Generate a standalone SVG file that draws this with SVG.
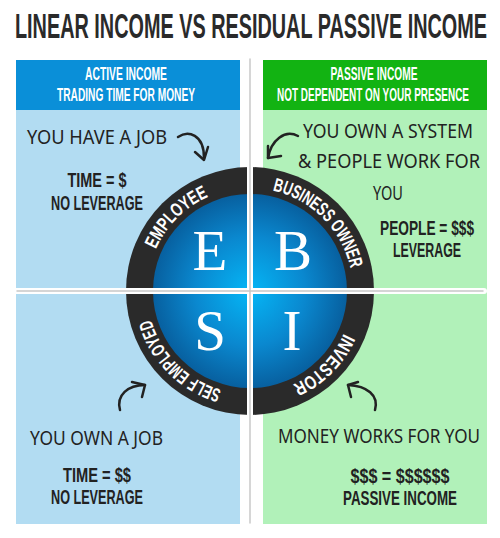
<svg xmlns="http://www.w3.org/2000/svg" width="500" height="538" viewBox="0 0 500 538">
<defs>
<radialGradient id="core" cx="250" cy="291" r="100" gradientUnits="userSpaceOnUse">
<stop offset="0" stop-color="#05b6f6"/>
<stop offset="0.55" stop-color="#0a88cf"/>
<stop offset="1" stop-color="#075d9c"/>
</radialGradient>
<path id="arcTL" d="M147,291 A103,103 0 0 1 250,188"/>
<path id="arcTR" d="M250,188 A103,103 0 0 1 353,291"/>
<path id="arcBR" d="M353,291 A103,103 0 0 1 250,394"/>
<path id="arcBL" d="M250,394 A103,103 0 0 1 147,291"/>
</defs>
<style>
.title{font-family:"Liberation Sans",Arial,sans-serif;font-weight:bold;font-size:35px;fill:#2a2a2a}
.hdr{font-family:"Liberation Sans",Arial,sans-serif;font-weight:bold;font-size:18px;fill:#fff;text-anchor:middle}
.big{font-family:"Liberation Sans",Arial,sans-serif;font-weight:bold;font-size:21px;fill:#222;text-anchor:middle}
.hand{font-family:"Noto Sans",sans-serif;font-size:19px;fill:#222}
.ring{font-family:"Liberation Sans",Arial,sans-serif;font-weight:bold;font-size:19px;fill:#fff}
.letter{font-family:"Liberation Serif","Times New Roman",serif;font-size:57px;fill:#fff;text-anchor:middle}
.arrow{fill:none;stroke:#222;stroke-width:2.5;stroke-linecap:round;stroke-linejoin:round}
.gap{stroke:#fff;stroke-width:6;stroke-linecap:round}
.rule{stroke:#c8c8c8;stroke-width:1.5;stroke-linecap:round}
</style>
<rect width="500" height="538" fill="#fff"/>
<g id="title">
<text class="title" x="15" y="38" textLength="472" lengthAdjust="spacingAndGlyphs">LINEAR INCOME VS RESIDUAL PASSIVE INCOME</text>
</g>
<g id="panel-active">
<rect x="16" y="60" width="224" height="464" fill="#b2dcf2"/>
<rect x="16" y="60" width="224" height="50" fill="#0a8fd8"/>
<text class="hdr" x="126" y="80" textLength="82" lengthAdjust="spacingAndGlyphs">ACTIVE INCOME</text>
<text class="hdr" x="126" y="101" textLength="138" lengthAdjust="spacingAndGlyphs">TRADING TIME FOR MONEY</text>
</g>
<g id="panel-passive">
<rect x="263" y="60" width="224" height="464" fill="#b1f1b9"/>
<rect x="263" y="60" width="224" height="50" fill="#12b312"/>
<text class="hdr" x="374" y="80" textLength="87" lengthAdjust="spacingAndGlyphs">PASSIVE INCOME</text>
<text class="hdr" x="373" y="101" textLength="192" lengthAdjust="spacingAndGlyphs">NOT DEPENDENT ON YOUR PRESENCE</text>
</g>
<g id="note-employee">
<text class="hand" x="27" y="144" textLength="140" lengthAdjust="spacingAndGlyphs">YOU HAVE A JOB</text>
<text class="big" x="97" y="187" textLength="59" lengthAdjust="spacingAndGlyphs">TIME = $</text>
<text class="big" x="97" y="210" textLength="92" lengthAdjust="spacingAndGlyphs">NO LEVERAGE</text>
</g>
<g id="note-business">
<text class="hand" x="303" y="138" textLength="170" lengthAdjust="spacingAndGlyphs">YOU OWN A SYSTEM</text>
<text class="hand" x="298" y="168" textLength="182" lengthAdjust="spacingAndGlyphs">&amp; PEOPLE WORK FOR</text>
<text class="hand" x="373" y="200" textLength="30" lengthAdjust="spacingAndGlyphs">YOU</text>
<text class="big" x="427" y="235" textLength="94" lengthAdjust="spacingAndGlyphs">PEOPLE = $$$</text>
<text class="big" x="427" y="257" textLength="68" lengthAdjust="spacingAndGlyphs">LEVERAGE</text>
</g>
<g id="note-self">
<text class="hand" x="30" y="445" textLength="133" lengthAdjust="spacingAndGlyphs">YOU OWN A JOB</text>
<text class="big" x="97" y="482" textLength="68" lengthAdjust="spacingAndGlyphs">TIME = $$</text>
<text class="big" x="97" y="504" textLength="92" lengthAdjust="spacingAndGlyphs">NO LEVERAGE</text>
</g>
<g id="note-investor">
<text class="hand" x="278" y="443" textLength="202" lengthAdjust="spacingAndGlyphs">MONEY WORKS FOR YOU</text>
<text class="big" x="400" y="483" textLength="99" lengthAdjust="spacingAndGlyphs">$$$ = $$$$$$</text>
<text class="big" x="400" y="505" textLength="114" lengthAdjust="spacingAndGlyphs">PASSIVE INCOME</text>
</g>
<g id="cashflow-circle">
<circle cx="250" cy="291" r="124" fill="#2a2a2a"/>
<circle cx="250" cy="291" r="97" fill="url(#core)"/>
</g>
<g id="quadrant-E">
<text class="letter" x="210" y="270">E</text>
<text class="ring"><textPath href="#arcTL" startOffset="50%" text-anchor="middle" textLength="76" lengthAdjust="spacingAndGlyphs">EMPLOYEE</textPath></text>
</g>
<g id="quadrant-B">
<text class="letter" x="293" y="270">B</text>
<text class="ring"><textPath href="#arcTR" startOffset="50%" text-anchor="middle" textLength="116" lengthAdjust="spacingAndGlyphs">BUSINESS OWNER</textPath></text>
</g>
<g id="quadrant-S">
<text class="letter" x="210" y="350">S</text>
<text class="ring"><textPath href="#arcBL" startOffset="50%" text-anchor="middle" textLength="104" lengthAdjust="spacingAndGlyphs">SELF EMPLOYED</textPath></text>
</g>
<g id="quadrant-I">
<text class="letter" x="292" y="350">I</text>
<text class="ring"><textPath href="#arcBR" startOffset="50%" text-anchor="middle" textLength="74" lengthAdjust="spacingAndGlyphs">INVESTOR</textPath></text>
</g>
<g id="dividers">
<line class="gap" x1="250" y1="166" x2="250" y2="416"/>
<line class="gap" x1="16" y1="291" x2="484" y2="291"/>
<line class="rule" x1="250" y1="59" x2="250" y2="523"/>
<line class="rule" x1="17" y1="291" x2="483" y2="291"/>
</g>
<g id="connectors">
<path class="arrow" d="M178,137 C188,130 204,134 204,158"/>
<path class="arrow" d="M195,152 L204,160 L208,147"/>
<path class="arrow" d="M298,136 C285,129 271,140 268,158"/>
<path class="arrow" d="M268,146 L268,158 L281,156"/>
<path class="arrow" d="M120,410 C116,395 128,385 145,385"/>
<path class="arrow" d="M132,382 L145,385 L142,397"/>
<path class="arrow" d="M375,410 C379,395 367,386 348,385"/>
<path class="arrow" d="M358,382 L348,385 L351,397"/>
</g>
</svg>
